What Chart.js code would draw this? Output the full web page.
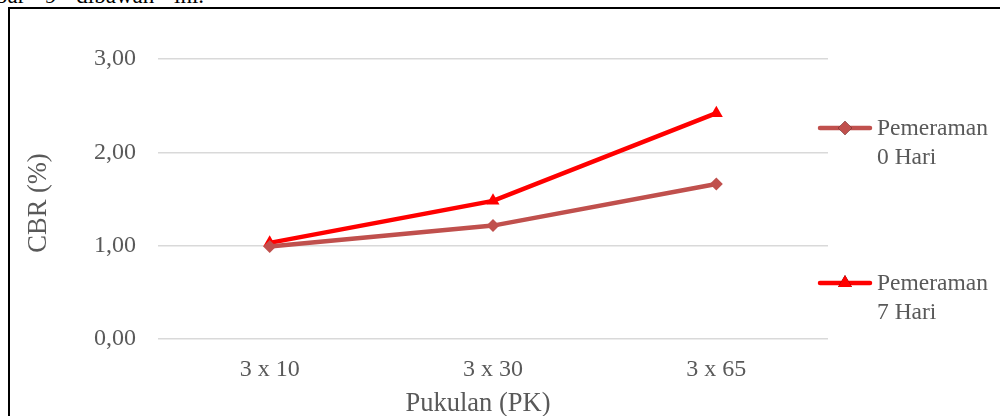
<!DOCTYPE html>
<html>
<head>
<meta charset="utf-8">
<script src="https://cdn.jsdelivr.net/npm/chart.js@4.4.1/dist/chart.umd.min.js"></script>
<style>
  html, body { margin: 0; padding: 0; background: #fff; }
  body { width: 1000px; height: 416px; position: relative; overflow: hidden; }
  #caption { position: absolute; left: -4px; top: -17px; font: 23px "Liberation Serif", serif; color: #000; white-space: nowrap; word-spacing: 14px; }
  #frame { position: absolute; left: 8px; top: 7px; width: 1000px; height: 420px; border: 2px solid #000; box-sizing: border-box; }
  #wrap { position: absolute; left: 0; top: 0; width: 1000px; height: 416px; }
</style>
</head>
<body>
<div id="caption">bar 9 dibawah ini.</div>
<div id="frame"></div>
<div id="wrap"><canvas id="c" width="1000" height="416"></canvas></div>
<script>
// Pukulan categories and CBR values per curing period
const categories = ['3 x 10', '3 x 30', '3 x 65'];
const cbr0Hari = [0.99, 1.215, 1.66];
const cbr7Hari = [1.03, 1.48, 2.42];
const seriesNames = [['Pemeraman', '0 Hari'], ['Pemeraman', '7 Hari']];
const yTicks = [0, 1, 2, 3];

const serif = '"Liberation Serif", "Times New Roman", serif';
const grey = '#595959';

// Right-hand legend with two-line labels and the series' own marker styles
const sideLegend = {
  id: 'sideLegend',
  afterDraw(chart) {
    const ctx = chart.ctx;
    const rows = [128, 283];
    chart.data.datasets.forEach((ds, i) => {
      const y = rows[i];
      ctx.save();
      ctx.strokeStyle = ds.borderColor;
      ctx.lineWidth = ds.borderWidth;
      ctx.lineCap = 'round';
      ctx.beginPath();
      ctx.moveTo(820, y);
      ctx.lineTo(870, y);
      ctx.stroke();
      Chart.helpers.drawPoint(ctx, {
        pointStyle: ds.pointStyle, radius: ds.pointRadius + 0.5, rotation: ds.pointRotation || 0,
        borderWidth: 0
      }, 845, y);
      ctx.fillStyle = ds.pointBackgroundColor;
      ctx.fill();
      ctx.fillStyle = grey;
      ctx.font = '23.5px ' + serif;
      ctx.textBaseline = 'middle';
      ctx.textAlign = 'left';
      seriesNames[i].forEach((t, k) => ctx.fillText(t, 877, y + 1 + k * 29));
      ctx.restore();
    });
    // axis titles
    ctx.save();
    ctx.fillStyle = grey;
    ctx.font = '26.5px ' + serif;
    ctx.textAlign = 'center';
    ctx.textBaseline = 'middle';
    ctx.fillText('Pukulan (PK)', 478, 404);
    ctx.translate(39, 203);
    ctx.rotate(-Math.PI / 2);
    ctx.fillText('CBR (%)', 0, 0);
    ctx.restore();
  }
};

new Chart(document.getElementById('c'), {
  type: 'line',
  data: {
    labels: categories,
    datasets: [
      {
        label: seriesNames[0].join(' '),
        data: cbr0Hari,
        borderColor: '#C0504D',
        backgroundColor: '#C0504D',
        pointBackgroundColor: '#C0504D',
        pointBorderColor: '#C0504D',
        borderWidth: 4.5,
        pointStyle: 'rectRot',
        pointRadius: 6.5,
        pointBorderWidth: 0,
        tension: 0
      },
      {
        label: seriesNames[1].join(' '),
        data: cbr7Hari,
        borderColor: '#FF0000',
        backgroundColor: '#FF0000',
        pointBackgroundColor: '#FF0000',
        pointBorderColor: '#FF0000',
        borderWidth: 4.5,
        pointStyle: 'triangle',
        pointRadius: 7.5,
        pointBorderWidth: 0,
        tension: 0
      }
    ]
  },
  options: {
    responsive: false,
    animation: false,
    devicePixelRatio: 1,
    layout: { padding: { left: 0, right: 172, top: 59, bottom: 0 } },
    plugins: { legend: { display: false }, tooltip: { enabled: false } },
    scales: {
      x: {
        offset: true,
        grid: { display: false },
        border: { display: false },
        ticks: { color: grey, font: { family: serif, size: 24 }, padding: 8 },
        afterFit(s) { s.height = 77; }
      },
      y: {
        min: 0, max: 3,
        afterBuildTicks(s) { s.ticks = yTicks.map(v => ({ value: v })); },
        grid: { color: '#D9D9D9', lineWidth: 1.5, drawTicks: false },
        border: { display: false },
        ticks: {
          color: grey, font: { family: serif, size: 24 }, padding: 22,
          callback: v => v.toFixed(2).replace('.', ',')
        },
        afterFit(s) { s.width = 158; }
      }
    }
  },
  plugins: [sideLegend]
});
</script>
</body>
</html>
